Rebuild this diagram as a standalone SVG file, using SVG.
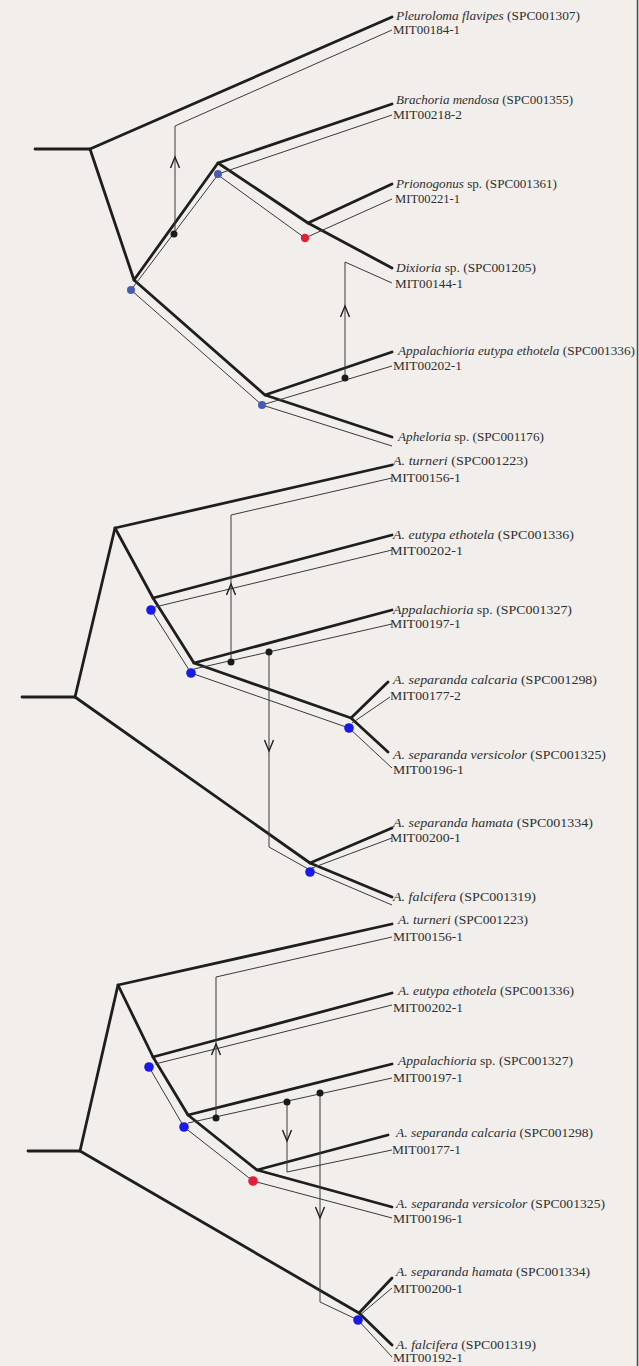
<svg xmlns="http://www.w3.org/2000/svg" xmlns:xlink="http://www.w3.org/1999/xlink" width="639" height="1366" viewBox="0 0 639 1366">
<style>
.t{fill:none;stroke:#1e1e1e;stroke-width:2.8;stroke-linejoin:round;stroke-linecap:round}
.n{fill:none;stroke:#3a3a3a;stroke-width:1;stroke-linejoin:miter}
.lb{font-family:"Liberation Serif","Times New Roman",serif;font-size:12px;fill:#2e2e2e}
.i{font-style:italic}
.b1{fill:#4a5cb0}
.b2{fill:#1a1ae6}
.r{fill:#e0203a}
.d{fill:#1a1a1a}
.ah{fill:none;stroke:#1e1e1e;stroke-width:1.4;stroke-linejoin:miter}
</style>
<defs>
<path id="up" class="ah" d="M-4.5,5 L0,-6 L4.5,5"/>
<path id="dn" class="ah" d="M-4.5,-5 L0,6 L4.5,-5"/>
</defs>
<rect x="0" y="0" width="639" height="1366" fill="#f1eeec"/>
<line x1="637.5" y1="0" x2="637.5" y2="1366" stroke="#4a4a4a" stroke-width="1.5"/>

<g id="connectors">
<g id="p1-species">
<path class="t" d="M35,149 H90 L392,17"/>
<path class="t" d="M90,149 L134,280 L218,163 L392,104"/>
<path class="t" d="M218,163 L308,223 L392,268"/>
<path class="t" d="M308,223 L392,184"/>
<path class="t" d="M134,280 L265,395 L392,352"/>
<path class="t" d="M265,395 L392,437"/>
</g>
<g id="p1-mito">
<path class="n" d="M175,234 V126 L392,30"/>
<path class="n" d="M131,290 L220,172"/>
<path class="n" d="M218,174 L392,115"/>
<path class="n" d="M218,175 L305,238 L392,199"/>
<path class="n" d="M345,378 V262 L392,283"/>
<path class="n" d="M131,290 L262,405 L392,366"/>
<path class="n" d="M262,405 L392,446"/>
<use xlink:href="#up" x="175" y="163"/>
<use xlink:href="#up" x="345" y="312"/>
</g>
<g id="p2-species">
<path class="t" d="M22,697 H75 L115,528 L392,465"/>
<path class="t" d="M115,528 L153,598 L392,535"/>
<path class="t" d="M153,598 L194,663 L392,610"/>
<path class="t" d="M194,663 L351,718 L388,682"/>
<path class="t" d="M351,718 L388,752"/>
<path class="t" d="M75,697 L310,863 L392,897"/>
<path class="t" d="M310,863 L392,828"/>
</g>
<g id="p2-mito">
<path class="n" d="M231,662 V515 L392,478"/>
<path class="n" d="M155,607 L392,550"/>
<path class="n" d="M151,610 L191,673"/>
<path class="n" d="M194,669 L392,624"/>
<path class="n" d="M191,673 L349,728"/>
<path class="n" d="M352,723 L390,697"/>
<path class="n" d="M349,728 L392,768"/>
<path class="n" d="M269,652 V847 L310,870"/>
<path class="n" d="M312,868 L392,838"/>
<path class="n" d="M310,870 L392,905"/>
<use xlink:href="#up" x="231" y="590"/>
<use xlink:href="#dn" x="269" y="745"/>
</g>
<g id="p3-species">
<path class="t" d="M28,1151 H80 L118,985 L392,924"/>
<path class="t" d="M118,985 L153,1057 L392,993"/>
<path class="t" d="M153,1057 L188,1115 L392,1064"/>
<path class="t" d="M188,1115 L257,1170 L388,1135"/>
<path class="t" d="M257,1170 L392,1207"/>
<path class="t" d="M80,1151 L359,1313 L392,1345"/>
<path class="t" d="M359,1313 L392,1278"/>
</g>
<g id="p3-mito">
<path class="n" d="M216,1118 V977 L392,937"/>
<path class="n" d="M155,1064 L392,1005"/>
<path class="n" d="M149,1067 L184,1127"/>
<path class="n" d="M188,1123 L392,1078"/>
<path class="n" d="M184,1127 L253,1181 L392,1218"/>
<path class="n" d="M287,1102 V1172 L392,1150"/>
<path class="n" d="M320,1093 V1302 L358,1320"/>
<path class="n" d="M360,1315 L392,1288"/>
<path class="n" d="M358,1320 L392,1357"/>
<use xlink:href="#up" x="216" y="1050"/>
<use xlink:href="#dn" x="287" y="1135"/>
<use xlink:href="#dn" x="320" y="1212"/>
</g>
</g>

<g id="nodes">
<g id="p1-nodes">
<circle class="b1" cx="131" cy="290" r="4"/>
<circle class="b1" cx="218" cy="174" r="4"/>
<circle class="b1" cx="262" cy="405" r="4"/>
<circle class="r" cx="305" cy="238" r="4.2"/>
<circle class="d" cx="174" cy="234" r="3.5"/>
<circle class="d" cx="345" cy="378" r="3.5"/>
</g>
<g id="p2-nodes">
<circle class="b2" cx="151" cy="610" r="4.8"/>
<circle class="b2" cx="191" cy="673" r="4.8"/>
<circle class="b2" cx="349" cy="728" r="4.8"/>
<circle class="b2" cx="310" cy="872" r="4.8"/>
<circle class="d" cx="231" cy="662" r="3.5"/>
<circle class="d" cx="269" cy="652" r="3.5"/>
</g>
<g id="p3-nodes">
<circle class="b2" cx="149" cy="1067" r="4.8"/>
<circle class="b2" cx="184" cy="1127" r="4.8"/>
<circle class="b2" cx="358" cy="1320" r="4.8"/>
<circle class="r" cx="253" cy="1181" r="4.8"/>
<circle class="d" cx="216" cy="1118" r="3.5"/>
<circle class="d" cx="287" cy="1102" r="3.5"/>
<circle class="d" cx="320" cy="1093" r="3.5"/>
</g>
</g>

<g id="labels-p1">
<text class="lb" x="396" y="20" textLength="184" lengthAdjust="spacingAndGlyphs"><tspan class="i">Pleuroloma flavipes</tspan> (SPC001307)</text>
<text class="lb" x="393" y="34" textLength="67" lengthAdjust="spacingAndGlyphs">MIT00184-1</text>
<text class="lb" x="396" y="104" textLength="177" lengthAdjust="spacingAndGlyphs"><tspan class="i">Brachoria mendosa</tspan> (SPC001355)</text>
<text class="lb" x="393" y="119" textLength="69" lengthAdjust="spacingAndGlyphs">MIT00218-2</text>
<text class="lb" x="396" y="188" textLength="161" lengthAdjust="spacingAndGlyphs"><tspan class="i">Prionogonus</tspan> sp. (SPC001361)</text>
<text class="lb" x="395" y="203" textLength="65" lengthAdjust="spacingAndGlyphs">MIT00221-1</text>
<text class="lb" x="396" y="272" textLength="140" lengthAdjust="spacingAndGlyphs"><tspan class="i">Dixioria</tspan> sp. (SPC001205)</text>
<text class="lb" x="395" y="288" textLength="68" lengthAdjust="spacingAndGlyphs">MIT00144-1</text>
<text class="lb" x="398" y="355" textLength="237" lengthAdjust="spacingAndGlyphs"><tspan class="i">Appalachioria eutypa ethotela</tspan> (SPC001336)</text>
<text class="lb" x="393" y="370" textLength="69" lengthAdjust="spacingAndGlyphs">MIT00202-1</text>
<text class="lb" x="398" y="441" textLength="146" lengthAdjust="spacingAndGlyphs"><tspan class="i">Apheloria</tspan> sp. (SPC001176)</text>
</g>
<g id="labels-p2">
<text class="lb" x="393" y="465" textLength="135" lengthAdjust="spacingAndGlyphs"><tspan class="i">A. turneri</tspan> (SPC001223)</text>
<text class="lb" x="390" y="482" textLength="71" lengthAdjust="spacingAndGlyphs">MIT00156-1</text>
<text class="lb" x="393" y="539" textLength="181" lengthAdjust="spacingAndGlyphs"><tspan class="i">A. eutypa ethotela</tspan> (SPC001336)</text>
<text class="lb" x="390" y="555" textLength="73" lengthAdjust="spacingAndGlyphs">MIT00202-1</text>
<text class="lb" x="393" y="614" textLength="179" lengthAdjust="spacingAndGlyphs"><tspan class="i">Appalachioria</tspan> sp. (SPC001327)</text>
<text class="lb" x="390" y="628" textLength="71" lengthAdjust="spacingAndGlyphs">MIT00197-1</text>
<text class="lb" x="393" y="684" textLength="204" lengthAdjust="spacingAndGlyphs"><tspan class="i">A. separanda calcaria</tspan> (SPC001298)</text>
<text class="lb" x="390" y="700" textLength="71" lengthAdjust="spacingAndGlyphs">MIT00177-2</text>
<text class="lb" x="393" y="759" textLength="213" lengthAdjust="spacingAndGlyphs"><tspan class="i">A. separanda versicolor</tspan> (SPC001325)</text>
<text class="lb" x="393" y="774" textLength="71" lengthAdjust="spacingAndGlyphs">MIT00196-1</text>
<text class="lb" x="393" y="827" textLength="200" lengthAdjust="spacingAndGlyphs"><tspan class="i">A. separanda hamata</tspan> (SPC001334)</text>
<text class="lb" x="390" y="842" textLength="71" lengthAdjust="spacingAndGlyphs">MIT00200-1</text>
<text class="lb" x="393" y="901" textLength="143" lengthAdjust="spacingAndGlyphs"><tspan class="i">A. falcifera</tspan> (SPC001319)</text>
</g>
<g id="labels-p3">
<text class="lb" x="398" y="924" textLength="130" lengthAdjust="spacingAndGlyphs"><tspan class="i">A. turneri</tspan> (SPC001223)</text>
<text class="lb" x="393" y="941" textLength="70" lengthAdjust="spacingAndGlyphs">MIT00156-1</text>
<text class="lb" x="398" y="995" textLength="176" lengthAdjust="spacingAndGlyphs"><tspan class="i">A. eutypa ethotela</tspan> (SPC001336)</text>
<text class="lb" x="393" y="1012" textLength="70" lengthAdjust="spacingAndGlyphs">MIT00202-1</text>
<text class="lb" x="398" y="1065" textLength="175" lengthAdjust="spacingAndGlyphs"><tspan class="i">Appalachioria</tspan> sp. (SPC001327)</text>
<text class="lb" x="393" y="1082" textLength="70" lengthAdjust="spacingAndGlyphs">MIT00197-1</text>
<text class="lb" x="396" y="1137" textLength="197" lengthAdjust="spacingAndGlyphs"><tspan class="i">A. separanda calcaria</tspan> (SPC001298)</text>
<text class="lb" x="392" y="1154" textLength="69" lengthAdjust="spacingAndGlyphs">MIT00177-1</text>
<text class="lb" x="396" y="1208" textLength="209" lengthAdjust="spacingAndGlyphs"><tspan class="i">A. separanda versicolor</tspan> (SPC001325)</text>
<text class="lb" x="393" y="1223" textLength="70" lengthAdjust="spacingAndGlyphs">MIT00196-1</text>
<text class="lb" x="396" y="1276" textLength="194" lengthAdjust="spacingAndGlyphs"><tspan class="i">A. separanda hamata</tspan> (SPC001334)</text>
<text class="lb" x="393" y="1293" textLength="70" lengthAdjust="spacingAndGlyphs">MIT00200-1</text>
<text class="lb" x="396" y="1349" textLength="140" lengthAdjust="spacingAndGlyphs"><tspan class="i">A. falcifera</tspan> (SPC001319)</text>
<text class="lb" x="393" y="1362" textLength="70" lengthAdjust="spacingAndGlyphs">MIT00192-1</text>
</g>
</svg>
